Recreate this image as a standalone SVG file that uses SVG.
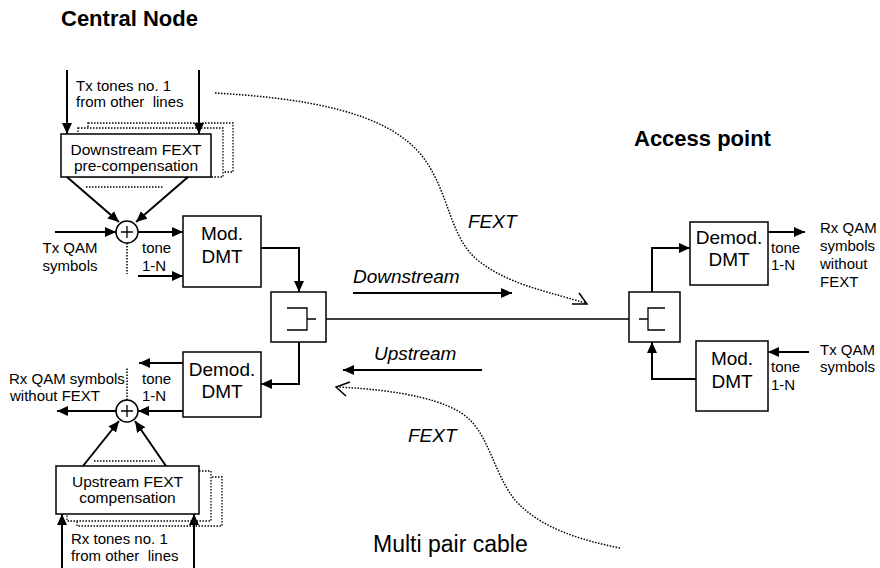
<svg xmlns="http://www.w3.org/2000/svg" width="880" height="568" viewBox="0 0 880 568">
<style>
text{font-family:"Liberation Sans",Arial,sans-serif;fill:#000}
.s{font-size:15px}
.b{font-size:15.5px}
.m{font-size:19px}
.i{font-size:19px;font-style:italic}
.h{font-size:22px;font-weight:bold}
.box{fill:#fff;stroke:#000;stroke-width:1.5}
.dbox{fill:#fff;stroke:#000;stroke-width:1.3;stroke-dasharray:1.5 1.5}
.dot{fill:none;stroke:#000;stroke-width:1.5;stroke-dasharray:1.5 1.5}
.ln{fill:none;stroke:#000;stroke-width:1.3}
.ar{fill:none;stroke:#000;stroke-width:2;marker-end:url(#ah)}
.wire{fill:none;stroke:#000;stroke-width:1.5}
</style>
<defs>
<marker id="ah" markerUnits="userSpaceOnUse" markerWidth="12" markerHeight="10" refX="11" refY="5" orient="auto">
<path d="M0,0 L11,5 L0,10 z" fill="#000"/>
</marker>
</defs>

<text class="h" x="61" y="26">Central Node</text>
<text class="h" x="634" y="146">Access point</text>
<text style="font-size:23px" x="373" y="552">Multi pair cable</text>

<g id="ds-fext">
<rect class="dbox" x="88" y="123" width="145" height="49"/>
<rect class="dbox" x="78" y="128" width="145" height="49"/>
<rect class="box" x="61" y="134" width="150" height="43"/>
<text class="b" x="136" y="155" text-anchor="middle">Downstream FEXT</text>
<text class="b" x="136" y="171" text-anchor="middle">pre-compensation</text>
</g>

<g id="us-fext">
<rect class="dbox" x="77" y="477" width="145" height="49"/>
<rect class="dbox" x="67" y="471" width="144" height="50"/>
<rect class="box" x="56" y="466" width="143" height="48"/>
<text class="b" x="127.5" y="487" text-anchor="middle">Upstream FEXT</text>
<text class="b" x="127.5" y="503" text-anchor="middle">compensation</text>
</g>

<g id="sum-top">
<circle cx="127" cy="232" r="11" fill="#fff" stroke="#000" stroke-width="1.5"/>
<path class="ln" d="M121,232 H133 M127,226 V238"/>
</g>

<g id="sum-bot">
<circle cx="127" cy="411" r="11" fill="#fff" stroke="#000" stroke-width="1.5"/>
<path class="ln" d="M121,411 H133 M127,405 V417"/>
</g>

<g id="mod-left">
<rect class="box" x="183" y="216" width="78" height="71"/>
<text class="m" x="222" y="240" text-anchor="middle">Mod.</text>
<text class="m" x="222" y="263" text-anchor="middle">DMT</text>
</g>

<g id="demod-left">
<rect class="box" x="183" y="352" width="78" height="65"/>
<text class="m" x="222" y="376" text-anchor="middle">Demod.</text>
<text class="m" x="222" y="398" text-anchor="middle">DMT</text>
</g>

<g id="hybrid-left">
<rect class="box" x="271" y="292" width="55" height="50"/>
<path class="ln" d="M287,308 H307 V330 H287 M307,319 H316"/>
</g>

<g id="hybrid-right">
<rect class="box" x="629" y="292" width="51" height="50"/>
<path class="ln" d="M665,308 H648 V330 H665 M648,319 H639"/>
</g>

<g id="demod-right">
<rect class="box" x="690" y="222" width="78" height="63"/>
<text class="m" x="729" y="244" text-anchor="middle">Demod.</text>
<text class="m" x="729" y="266" text-anchor="middle">DMT</text>
</g>

<g id="mod-right">
<rect class="box" x="696" y="341" width="72" height="70"/>
<text class="m" x="732" y="365" text-anchor="middle">Mod.</text>
<text class="m" x="732" y="388" text-anchor="middle">DMT</text>
</g>

<g id="labels">
<text class="s" x="76" y="91">Tx tones no. 1</text>
<text class="s" x="76" y="107" xml:space="preserve">from other  lines</text>
<text class="s" x="70" y="253" text-anchor="middle">Tx QAM</text>
<text class="s" x="70" y="271" text-anchor="middle">symbols</text>
<text class="s" x="142" y="253">tone</text>
<text class="s" x="142" y="271">1-N</text>
<text class="s" x="9" y="384">Rx QAM symbols</text>
<text class="s" x="10" y="401">without FEXT</text>
<text class="s" x="142" y="384">tone</text>
<text class="s" x="142" y="401">1-N</text>
<text class="s" x="71" y="544">Rx tones no. 1</text>
<text class="s" x="71" y="561" xml:space="preserve">from other  lines</text>
<text class="s" x="820" y="233">Rx QAM</text>
<text class="s" x="820" y="251">symbols</text>
<text class="s" x="820" y="269">without</text>
<text class="s" x="820" y="287">FEXT</text>
<text class="s" x="771" y="253">tone</text>
<text class="s" x="771" y="270">1-N</text>
<text class="s" x="820" y="355">Tx QAM</text>
<text class="s" x="820" y="372">symbols</text>
<text class="s" x="771" y="372">tone</text>
<text class="s" x="771" y="390">1-N</text>
<text class="i" x="353" y="283">Downstream</text>
<text class="i" x="468" y="228">FEXT</text>
<text class="i" x="374" y="360">Upstream</text>
<text class="i" x="408" y="442">FEXT</text>
</g>

<g id="connectors">
<path class="ar" d="M67,70 V134"/>
<path class="ar" d="M199,70 V134"/>
<path class="ar" d="M67,177 L119,222"/>
<path class="ar" d="M188,177 L136,222"/>
<path class="ar" d="M55,232 H116"/>
<path class="ar" d="M138,232 H183"/>
<path class="ar" d="M138,276 H183"/>
<path class="dot" d="M127,243 V274"/>
<path class="dot" d="M86,187 H163"/>
<path class="ar" d="M261,248 H299 V292"/>
<path class="ar" d="M299,342 V384 H261"/>
<path class="ar" d="M183,363 H139"/>
<path class="ar" d="M183,411 H138"/>
<path class="ar" d="M116,411 H57"/>
<path class="dot" d="M127,400 V368"/>
<path class="ar" d="M83,466 L119,421"/>
<path class="ar" d="M166,466 L135,421"/>
<path class="dot" d="M94,461 H155"/>
<path class="ar" d="M62,568 V514"/>
<path class="ar" d="M194,568 V514"/>
<path class="wire" d="M326,319 H629"/>
<path class="ar" d="M353,293 H512"/>
<path class="ar" d="M482,370 H343"/>
<path class="ar" d="M652,292 V248 H690"/>
<path class="ar" d="M768,232 H805"/>
<path class="ar" d="M809,352 H768"/>
<path class="ar" d="M696,379 H652 V342"/>
<path class="dot" d="M215,93 C300,98 390,110 425,160 C450,195 450,240 480,262 C510,285 550,292 585,303"/>
<path class="wire" d="M572,304 L587,304 L579,293"/>
<path class="dot" d="M620,548 C580,540 540,528 515,500 C495,475 490,440 470,420 C450,400 400,390 338,387"/>
<path class="wire" d="M350,382 L336,387 L346,396"/>
</g>
</svg>
